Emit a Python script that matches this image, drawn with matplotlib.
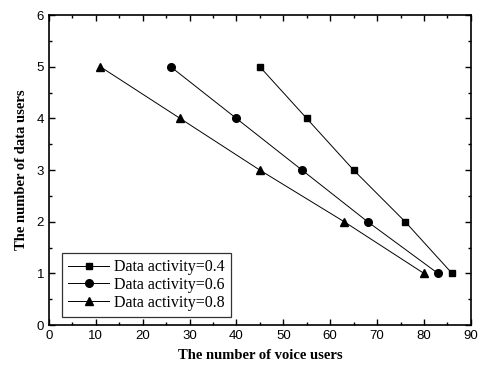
import matplotlib
matplotlib.use("Agg")
import matplotlib.pyplot as plt
from matplotlib.ticker import MultipleLocator

# data
data_users = [5, 4, 3, 2, 1]
voice_04 = [45, 55, 65, 76, 86]
voice_06 = [26, 40, 54, 68, 83]
voice_08 = [11, 28, 45, 63, 80]
labels = ["Data activity=0.4", "Data activity=0.6", "Data activity=0.8"]

fig = plt.figure(figsize=(4.79, 3.69), dpi=100)
ax = fig.add_axes([0.102, 0.119, 0.881, 0.840])

serif = "Liberation Serif"
sans = "Liberation Sans"

ax.plot(voice_04, data_users, "-s", color="black", lw=0.7, ms=5, label=labels[0])
ax.plot(voice_06, data_users, "-o", color="black", lw=0.7, ms=5.5, label=labels[1])
ax.plot(voice_08, data_users, "-^", color="black", lw=0.7, ms=6, label=labels[2])

ax.set_xlim(0, 90)
ax.set_ylim(0, 6)
ax.xaxis.set_major_locator(MultipleLocator(10))
ax.xaxis.set_minor_locator(MultipleLocator(5))
ax.yaxis.set_major_locator(MultipleLocator(1))
ax.yaxis.set_minor_locator(MultipleLocator(0.5))
ax.tick_params(which="both", direction="in", top=True, right=True, width=1)
ax.tick_params(which="major", length=4, labelsize=9.5)
ax.tick_params(which="minor", length=2)
for lab in ax.get_xticklabels() + ax.get_yticklabels():
    lab.set_fontfamily(sans)
for s in ax.spines.values():
    s.set_linewidth(1.2)

ax.set_xlabel("The number of voice users", fontfamily=serif, fontsize=10.5, fontweight="bold", labelpad=5)
ax.set_ylabel("The number of data users", fontfamily=serif, fontsize=10.5, fontweight="bold", labelpad=6)

leg = ax.legend(loc="lower left", bbox_to_anchor=(0.03, 0.026), fancybox=False, edgecolor="black",
                prop={"family": serif, "size": 11.5}, handlelength=2.6, labelspacing=0.1,
                borderpad=0.4, handletextpad=0.3, borderaxespad=0)
leg.get_frame().set_linewidth(0.9)

plt.savefig("out.png", dpi=100)
